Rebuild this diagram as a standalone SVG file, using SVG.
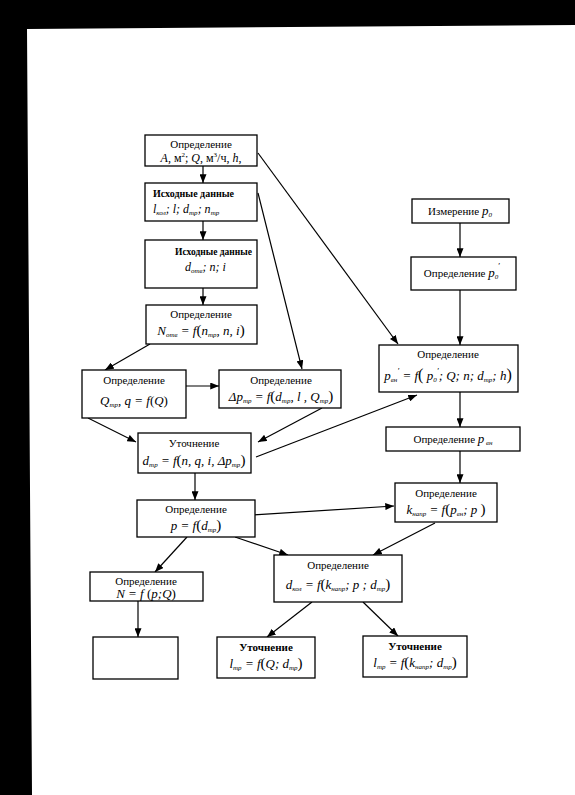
<svg xmlns="http://www.w3.org/2000/svg" width="575" height="795" viewBox="0 0 575 795">
<defs>
<marker id="ah" viewBox="0 0 10 8" refX="10" refY="4" markerWidth="9" markerHeight="7" markerUnits="userSpaceOnUse" orient="auto">
<path d="M0,0 L10,4 L0,8 Z" fill="#000"/>
</marker>
<style>
.box{fill:#fff;stroke:#000;stroke-width:1.3}
.t{font-family:"Liberation Serif","Times New Roman",serif;font-size:11px;fill:#000;text-anchor:middle}
.f{font-family:"Liberation Serif","Times New Roman",serif;font-size:13px;font-style:italic;fill:#000;text-anchor:middle}
.s{font-size:7px;font-style:italic}
.b{font-weight:bold}
.c line,.c path{stroke:#000;stroke-width:1.2;fill:none;marker-end:url(#ah)}
</style>
</defs>
<rect width="575" height="795" fill="#fff"/>
<polygon points="0,0 575,0 575,25 27,29 32,795 0,795" fill="#000"/>

<g class="c" id="connectors">
<line x1="203" y1="166" x2="203" y2="183"/>
<line x1="203" y1="221" x2="203" y2="240"/>
<line x1="203" y1="288" x2="203" y2="305"/>
<line x1="460" y1="223" x2="460" y2="257"/>
<line x1="460" y1="290" x2="460" y2="345"/>
<line x1="258" y1="153" x2="398" y2="344"/>
<line x1="258" y1="193" x2="302" y2="369"/>
<line x1="150" y1="344" x2="105" y2="370"/>
<line x1="186" y1="386" x2="219" y2="386"/>
<line x1="88" y1="418" x2="136" y2="442"/>
<line x1="322" y1="408" x2="258" y2="442"/>
<line x1="256" y1="457" x2="417" y2="395"/>
<line x1="460" y1="392" x2="460" y2="427"/>
<line x1="460" y1="451" x2="460" y2="483"/>
<line x1="195" y1="473" x2="195" y2="500"/>
<line x1="253" y1="515" x2="394" y2="506"/>
<line x1="187" y1="537" x2="155" y2="572"/>
<line x1="235" y1="537" x2="288" y2="555"/>
<line x1="435" y1="523" x2="373" y2="555"/>
<line x1="138" y1="601" x2="138" y2="637"/>
<line x1="312" y1="602" x2="267" y2="637"/>
<line x1="363" y1="602" x2="398" y2="636"/>
</g>

<g id="n1">
<rect class="box" x="145" y="135" width="112" height="31"/>
<text class="t" x="201" y="148">Определение</text>
<text class="f" x="201" y="161.5" style="font-size:12px"><tspan>A</tspan><tspan font-style="normal">, м</tspan><tspan font-style="normal" font-size="7" dy="-5">2</tspan><tspan font-style="normal" dy="5">; </tspan><tspan>Q</tspan><tspan font-style="normal">, м</tspan><tspan font-style="normal" font-size="7" dy="-5">3</tspan><tspan font-style="normal" dy="5">/ч, </tspan><tspan>h</tspan><tspan font-style="normal">,</tspan></text>
</g>

<g id="n2">
<rect class="box" x="145" y="183" width="112" height="38"/>
<text class="t b" x="153" y="197" style="text-anchor:start" textLength="81" lengthAdjust="spacingAndGlyphs">Исходные данные</text>
<text class="f" x="153" y="213" style="text-anchor:start;font-size:12px">l<tspan class="s" dy="2">кол</tspan><tspan dy="-2">; l; d</tspan><tspan class="s" dy="2">тр</tspan><tspan dy="-2">; n</tspan><tspan class="s" dy="2">тр</tspan></text>
</g>

<g id="n3">
<rect class="box" x="145" y="240" width="112" height="48"/>
<text class="t b" x="175" y="255" style="text-anchor:start" textLength="77" lengthAdjust="spacingAndGlyphs">Исходные данные</text>
<text class="f" x="185" y="271" style="text-anchor:start;font-size:12px">d<tspan class="s" dy="2">отв</tspan><tspan dy="-2">; n; i</tspan></text>
</g>

<g id="n4">
<rect class="box" x="412" y="199" width="97" height="24"/>
<text class="t" x="460" y="215">Измерение <tspan class="f" style="font-size:13px">p</tspan><tspan class="s" dy="2">0</tspan></text>
</g>

<g id="n5">
<rect class="box" x="411" y="257" width="105" height="33"/>
<text class="t" x="462" y="277">Определение <tspan class="f" style="font-size:13px">p</tspan><tspan class="s" dy="2">0</tspan><tspan font-size="9" dy="-10">′</tspan></text>
</g>

<g id="n6">
<rect class="box" x="146" y="305" width="111" height="39"/>
<text class="t" x="201" y="318">Определение</text>
<text class="f" x="201" y="335">N<tspan class="s" dy="2">отв</tspan><tspan dy="-2"> = f</tspan><tspan font-style="normal" font-size="15">(</tspan>n<tspan class="s" dy="2">тр</tspan><tspan dy="-2">, n, i</tspan><tspan font-style="normal" font-size="15">)</tspan></text>
</g>

<g id="n7">
<rect class="box" x="82" y="370" width="104" height="48"/>
<text class="t" x="134" y="384">Определение</text>
<text class="f" x="134" y="405">Q<tspan class="s" dy="2">тр</tspan><tspan dy="-2">, q = f</tspan><tspan font-style="normal">(</tspan>Q<tspan font-style="normal">)</tspan></text>
</g>

<g id="n8">
<rect class="box" x="219" y="370" width="122" height="38"/>
<text class="t" x="281" y="384">Определение</text>
<text class="f" x="281" y="401">Δp<tspan class="s" dy="2">тр</tspan><tspan dy="-2"> = f</tspan><tspan font-style="normal" font-size="15">(</tspan>d<tspan class="s" dy="2">тр</tspan><tspan dy="-2">, l , Q</tspan><tspan class="s" dy="2">тр</tspan><tspan font-style="normal" font-size="15" dy="-2">)</tspan></text>
</g>

<g id="n9">
<rect class="box" x="379" y="345" width="139" height="47"/>
<text class="t" x="448" y="358">Определение</text>
<text class="f" x="448" y="380">p<tspan class="s" dy="2">вн</tspan><tspan font-size="9" dy="-8">′</tspan><tspan dy="6"> = f</tspan><tspan font-style="normal" font-size="16">(</tspan> p<tspan class="s" dy="2">0</tspan><tspan font-size="9" dy="-8">′</tspan><tspan dy="6">; Q; n; d</tspan><tspan class="s" dy="2">тр</tspan><tspan dy="-2">; h</tspan><tspan font-style="normal" font-size="16">)</tspan></text>
</g>

<g id="n10">
<rect class="box" x="386" y="427" width="134" height="24"/>
<text class="t" x="453" y="443">Определение <tspan class="f" style="font-size:13px">p</tspan><tspan class="s" dy="2"> вн</tspan></text>
</g>

<g id="n11">
<rect class="box" x="138" y="433" width="113" height="40"/>
<text class="t" x="194" y="447">Уточнение</text>
<text class="f" x="194" y="465">d<tspan class="s" dy="2">тр</tspan><tspan dy="-2"> = f</tspan><tspan font-style="normal" font-size="15">(</tspan>n, q, i, Δp<tspan class="s" dy="2">тр</tspan><tspan font-style="normal" font-size="15" dy="-2">)</tspan></text>
</g>

<g id="n12">
<rect class="box" x="137" y="500" width="118" height="37"/>
<text class="t" x="196" y="513">Определение</text>
<text class="f" x="196" y="530">p = f<tspan font-style="normal" font-size="15">(</tspan>d<tspan class="s" dy="2">тр</tspan><tspan font-style="normal" font-size="15" dy="-2">)</tspan></text>
</g>

<g id="n13">
<rect class="box" x="395" y="483" width="102" height="39"/>
<text class="t" x="446" y="497">Определение</text>
<text class="f" x="446" y="514">k<tspan class="s" dy="2">напр</tspan><tspan dy="-2"> = f</tspan><tspan font-style="normal" font-size="15">(</tspan>p<tspan class="s" dy="2">вн</tspan><tspan dy="-2">; p </tspan><tspan font-style="normal" font-size="15">)</tspan></text>
</g>

<g id="n14">
<rect class="box" x="90" y="572" width="113" height="29"/>
<text class="t" x="146" y="585">Определение</text>
<text class="f" x="146" y="598">N = f<tspan font-style="normal"> (</tspan>p;Q<tspan font-style="normal">)</tspan></text>
</g>

<g id="n15">
<rect class="box" x="93" y="637" width="85" height="42"/>
</g>

<g id="n16">
<rect class="box" x="274" y="555" width="128" height="47"/>
<text class="t" x="338" y="569">Определение</text>
<text class="f" x="338" y="589">d<tspan class="s" dy="2">кол</tspan><tspan dy="-2"> = f</tspan><tspan font-style="normal" font-size="15">(</tspan>k<tspan class="s" dy="2">напр</tspan><tspan dy="-2">; p ; d</tspan><tspan class="s" dy="2">тр</tspan><tspan font-style="normal" font-size="15" dy="-2">)</tspan></text>
</g>

<g id="n17">
<rect class="box" x="217" y="637" width="98" height="41"/>
<text class="t b" x="266" y="651">Уточнение</text>
<text class="f" x="266" y="668">l<tspan class="s" dy="2">тр</tspan><tspan dy="-2"> = f</tspan><tspan font-style="normal" font-size="15">(</tspan>Q; d<tspan class="s" dy="2">тр</tspan><tspan font-style="normal" font-size="15" dy="-2">)</tspan></text>
</g>

<g id="n18">
<rect class="box" x="363" y="636" width="104" height="41"/>
<text class="t b" x="415" y="650">Уточнение</text>
<text class="f" x="415" y="667">l<tspan class="s" dy="2">тр</tspan><tspan dy="-2"> = f</tspan><tspan font-style="normal" font-size="15">(</tspan>k<tspan class="s" dy="2">напр</tspan><tspan dy="-2">; d</tspan><tspan class="s" dy="2">тр</tspan><tspan font-style="normal" font-size="15" dy="-2">)</tspan></text>
</g>
</svg>
